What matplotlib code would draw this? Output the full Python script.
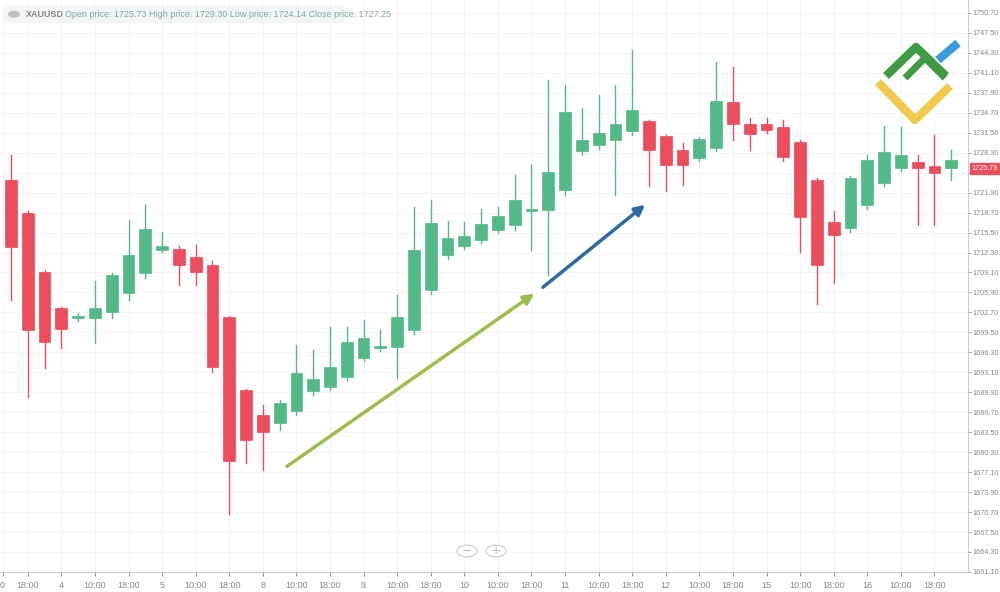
import matplotlib
matplotlib.use("Agg")
import matplotlib.pyplot as plt
from matplotlib.patches import Rectangle, Circle, FancyBboxPatch
import numpy as np

opens = [1723.93,1718.64,1709.18,1703.41,1701.80,1701.80,1702.77,1705.81,1709.02,1712.70,
         1712.86,1711.58,1710.30,1701.96,1690.26,1686.25,1684.97,1686.90,1690.10,1690.74,
         1692.35,1695.39,1697.00,1697.16,1699.88,1706.29,1711.90,1713.35,1714.31,1715.91,
         1716.71,1718.96,1719.12,1722.32,1728.57,1729.54,1730.34,1731.78,1733.38,1730.98,
         1728.74,1727.45,1729.06,1736.43,1732.90,1732.90,1732.42,1730.02,1723.93,1717.19,
         1716.23,1719.92,1723.44,1725.85,1726.81,1726.17,1725.85]
closes = [1713.19,1699.88,1697.96,1700.04,1702.12,1703.41,1708.70,1711.90,1716.07,1713.35,
          1710.30,1709.18,1693.95,1678.88,1682.25,1683.53,1688.18,1692.99,1692.03,1693.95,
          1697.96,1698.60,1697.32,1701.96,1712.70,1717.03,1714.63,1714.95,1716.87,1718.16,
          1720.72,1719.28,1725.21,1734.83,1730.34,1731.46,1732.90,1735.15,1728.74,1726.33,
          1726.33,1730.50,1736.59,1732.90,1731.30,1731.94,1727.61,1718.00,1710.30,1715.11,
          1724.25,1727.13,1728.41,1727.93,1725.85,1725.05,1727.13]
highs = [1727.93,1718.90,1709.50,1703.60,1702.60,1707.74,1709.00,1717.51,1719.92,1715.59,
         1713.30,1713.51,1711.00,1702.20,1690.50,1687.86,1688.60,1697.48,1696.67,1700.36,
         1700.36,1701.48,1699.88,1705.49,1719.60,1720.72,1717.35,1717.19,1719.28,1719.60,
         1724.73,1726.33,1739.96,1739.16,1735.47,1737.55,1739.16,1744.77,1733.60,1731.20,
         1729.86,1730.80,1742.84,1742.04,1733.86,1733.86,1733.54,1730.30,1724.20,1718.96,
         1724.60,1727.93,1732.58,1732.42,1727.93,1731.14,1728.74]
lows = [1704.69,1689.14,1693.79,1697.00,1701.40,1697.80,1701.80,1704.69,1708.20,1712.40,
        1707.10,1707.10,1693.15,1670.39,1678.56,1677.44,1683.85,1686.25,1689.46,1690.20,
        1691.80,1694.90,1696.50,1692.19,1699.20,1705.60,1711.30,1712.80,1713.80,1715.40,
        1715.90,1712.70,1708.70,1721.50,1727.90,1728.90,1721.52,1731.20,1722.96,1722.16,
        1723.12,1726.90,1728.50,1730.34,1728.74,1731.40,1727.00,1712.38,1704.05,1707.42,
        1715.60,1719.30,1722.90,1725.30,1716.71,1716.71,1723.93]

xlabels = ["18:00","4","10:00","18:00","5","10:00","18:00","8","10:00","18:00","9","10:00",
           "18:00","10","10:00","18:00","11","10:00","18:00","12","10:00","18:00","15","10:00",
           "18:00","16","10:00","18:00"]
ytick_vals = [round(1661.10 + 3.2 * k, 2) for k in range(29)]
last_price = 1725.79
green_arrow = [(16.3, 1677.76), (31.3, 1705.97)]
blue_arrow = [(31.55, 1706.45), (37.9, 1720.24)]

GREEN = "#53b987"
RED = "#eb4d5c"
FONT = ["Liberation Sans", "DejaVu Sans"]

fig = plt.figure(figsize=(10, 5.92), dpi=100)
ax = fig.add_axes([0, 20/592, 0.968, 1 - 20/592])
ax.set_xlim(-0.655, 57.0)
ax.set_ylim(1661.09, 1752.78)

for i, (o, c, h, l) in enumerate(zip(opens, closes, highs, lows)):
    col = GREEN if c >= o else RED
    ax.plot([i, i], [l, h], color=col, lw=1, zorder=2)
    bot, top = min(o, c), max(o, c)
    ax.add_patch(Rectangle((i - 0.35, bot), 0.7, max(top - bot, 0.3), facecolor=col,
                           edgecolor=col, lw=0.5, zorder=3))

for (p0, p1), col in ((green_arrow, "#9bbf4a"), (blue_arrow, "#2e6aa3")):
    ax.annotate("", xy=p1, xytext=p0,
                arrowprops=dict(arrowstyle="-|>,head_length=0.6,head_width=0.3", color=col, lw=2.5),
                zorder=5)

ax.yaxis.tick_right()
ax.set_yticks(ytick_vals)
ax.set_yticklabels([f"{v:.2f}" for v in ytick_vals], family=FONT)
ax.set_xticks([-0.5] + list(range(1, 57, 2)))
ax.set_xticklabels(["0"] + xlabels, family=FONT)
ax.tick_params(axis="both", labelsize=6.5, colors="#888888", length=3, width=0.6)
ax.tick_params(axis="y", pad=1, length=2, labelsize=5.2)
ax.grid(True, color="#f3f3f3", lw=0.6)
ax.set_axisbelow(True)
for s in ["top", "left"]:
    ax.spines[s].set_visible(False)
ax.spines["right"].set_color("#cccccc")
ax.spines["bottom"].set_color("#cccccc")

# last price label
ax.text(1.004, (last_price - 1661.09) / (1752.78 - 1661.09), f"{last_price:.2f}",
        transform=ax.transAxes, fontsize=5.2, color="white", va="center", ha="left", family=FONT,
        bbox=dict(boxstyle="square,pad=0.3", fc=RED, ec=RED), zorder=10, clip_on=False)

# header
fig.patches.append(FancyBboxPatch((0.005, 0.963), 0.34, 0.026, boxstyle="round,pad=0.002,rounding_size=0.01",
                                  transform=fig.transFigure, fc="#f2f6f7", ec="none", zorder=0))
fig.patches.append(Circle((0.014, 0.976), 0.006, transform=fig.transFigure, fc="#c0c0c0", ec="none"))
fig.text(0.026, 0.976, "XAUUSD", fontsize=6.5, color="#888888", fontweight="bold", va="center", family=FONT)
fig.text(0.065, 0.976, "Open price: 1725.73 High price: 1729.30 Low price: 1724.14 Close price: 1727.25",
         fontsize=6.5, color="#7fa8a0", va="center", family=FONT)

# zoom buttons
for cx, sym in ((0.467, "−"), (0.496, "+")):
    fig.patches.append(Circle((cx, 1 - 551/592), 0.010, transform=fig.transFigure, fc="white",
                              ec="#cccccc", lw=0.8))
    fig.text(cx, 1 - 551/592, sym, ha="center", va="center", fontsize=9, color="#bbbbbb")

# logo
def fl(pts, col, lw):
    xs = [p[0] / 1000 for p in pts]
    ys = [1 - p[1] / 592 for p in pts]
    fig.add_artist(plt.Line2D(xs, ys, color=col, lw=lw, solid_capstyle="butt", transform=fig.transFigure))
fl([(878, 82), (915, 120), (950, 86)], "#f2c94c", 6)
fl([(886, 76), (916, 47), (946, 76)], "#3f9a41", 6)
fl([(905, 78), (925, 58), (945, 78)], "#3f9a41", 5)
fl([(938, 60), (958, 43)], "#3b9ad9", 6)

fig.savefig("out.png", dpi=100, facecolor="white")
